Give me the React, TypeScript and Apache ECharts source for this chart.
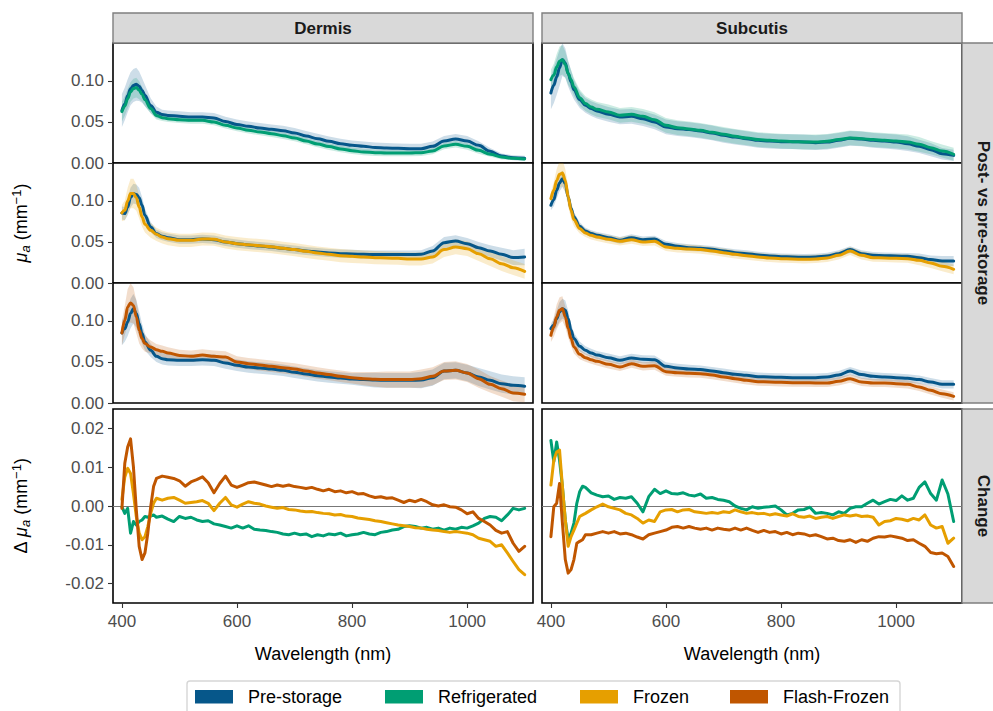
import React, { useEffect, useRef } from 'react';
import * as echarts from 'echarts';

// ---------- data ----------
const W = [400, 405, 410, 415, 420, 425, 430, 435, 440, 450, 460, 470, 480,
  500, 520, 540, 560, 580, 600, 620, 640, 660, 680,
  700, 720, 740, 760, 780, 800, 820, 840, 860, 880,
  900, 920, 940, 960, 980, 1000, 1020, 1040, 1060, 1080,
  1100];

// Dermis, row 1: Pre-storage vs Refrigerated
const dPre1 = [.064, .072, .082, .0905, .0945, .096, .0935, .0885, .0825, .070, .062, .059, .058,
  .057, .056, .056, .055, .0505, .047, .0447, .0427, .041, .0394,
  .0366, .033, .0297, .0264, .0236, .0215, .0203, .019, .0183, .0179,
  .0175, .0175, .0203, .0268, .0293, .0268, .0215, .0142, .0085, .0065,
  .0057];
const sdDPre1 = [.02, .02, .02, .02, .02, .02, .018, .015, .013, .009, .007, .006, .006,
  .006, .006, .006, .006, .006, .006, .006, .006, .006, .006,
  .006, .006, .006, .006, .006, .006, .006, .006, .006, .006,
  .006, .006, .006, .006, .006, .006, .005, .004, .003, .003,
  .003];
const dRef1 = [.0626, .0695, .0785, .0866, .0907, .0919, .0886, .0837, .0772, .0663, .058, .0553, .054,
  .0528, .052, .052, .050, .046, .0427, .040, .0378, .0358, .0333,
  .0305, .0268, .0232, .020, .0171, .015, .0134, .0126, .0122, .0122,
  .0122, .0126, .0146, .0207, .0228, .0203, .0154, .0106, .0073, .0057,
  .0049];
const sdDRef1 = [.012, .012, .012, .012, .012, .012, .011, .009, .008, .006, .005, .004, .004,
  .004, .004, .004, .004, .004, .004, .004, .004, .004, .004,
  .004, .004, .004, .004, .004, .004, .004, .004, .004, .004,
  .004, .004, .004, .004, .004, .004, .004, .003, .003, .002,
  .002];

// Dermis, row 2: Pre-storage vs Frozen
const dPre2 = [.0854, .0846, .0927, .104, .109, .108, .104, .0947, .0825, .0683, .060, .057, .0553,
  .0528, .0528, .0537, .0528, .050, .048, .0463, .0451, .0439, .0423,
  .0407, .039, .0378, .0366, .0358, .0354, .035, .0346, .0346, .0346,
  .0346, .035, .039, .0492, .0512, .048, .0431, .039, .035, .031,
  .0317];
const sdDPre2 = [.008, .008, .01, .012, .012, .012, .012, .01, .008, .006, .005, .005, .005,
  .005, .005, .005, .005, .005, .005, .005, .005, .005, .005,
  .005, .005, .005, .005, .005, .005, .005, .005, .005, .005,
  .005, .005, .006, .007, .007, .007, .007, .007, .008, .009,
  .01];
const dFro2 = [.0854, .0886, .100, .109, .109, .104, .0927, .0805, .0715, .0642, .0593, .0561, .054,
  .052, .052, .0537, .0533, .050, .048, .0467, .0455, .0443, .0423,
  .0407, .0386, .0366, .035, .0333, .0325, .0317, .0309, .0305, .0301,
  .0293, .0293, .0317, .0407, .0439, .0419, .0358, .0297, .0236, .0187,
  .0142];
const sdDFro2 = [.01, .012, .016, .018, .018, .016, .014, .012, .01, .009, .008, .008, .008,
  .008, .008, .008, .008, .008, .008, .008, .008, .008, .008,
  .008, .008, .008, .008, .008, .008, .008, .008, .008, .008,
  .008, .008, .008, .009, .009, .009, .009, .009, .009, .009,
  .009];

// Dermis, row 3: Pre-storage vs Flash-Frozen
const dPre3 = [.0854, .0907, .0988, .109, .115, .109, .0967, .0846, .0744, .0642, .0569, .054, .0528,
  .052, .052, .0528, .052, .0488, .0459, .0439, .0427, .0415, .0398,
  .0374, .0354, .0333, .0317, .0305, .0293, .0285, .028, .0276, .0276,
  .0276, .028, .0309, .039, .0398, .0366, .0317, .0276, .0236, .0215,
  .0203];
const sdDPre3 = [.015, .016, .017, .018, .018, .017, .015, .012, .01, .008, .007, .007, .007,
  .007, .007, .007, .007, .007, .007, .007, .007, .007, .007,
  .007, .007, .007, .007, .007, .007, .008, .009, .009, .009,
  .009, .01, .01, .01, .01, .01, .011, .011, .011, .011,
  .011];
const dFla3 = [.0854, .1008, .117, .122, .119, .105, .0886, .0785, .0724, .0683, .065, .063, .061,
  .058, .0569, .0585, .0569, .0561, .050, .048, .0463, .0447, .0431,
  .0415, .039, .0366, .0346, .0325, .0309, .0297, .0289, .0285, .0285,
  .0285, .0297, .0325, .039, .0398, .0366, .0297, .0228, .0175, .0122,
  .0106];
const sdDFla3 = [.015, .018, .022, .024, .022, .02, .016, .012, .01, .008, .007, .007, .007,
  .007, .007, .007, .007, .007, .007, .007, .007, .007, .007,
  .007, .007, .007, .007, .007, .007, .008, .009, .01, .01,
  .01, .011, .011, .011, .011, .011, .011, .01, .01, .01,
  .01];

// Subcutis, row 1
const sPre1 = [.0854, .0947, .105, .116, .126, .122, .109, .0988, .0894, .0772, .0703, .0663, .0634,
  .0593, .0561, .0569, .054, .050, .0439, .0419, .0407, .039, .0366,
  .0337, .0317, .0297, .0276, .0268, .026, .026, .0256, .0248, .0256,
  .0276, .0301, .0293, .0276, .0268, .0256, .0236, .0203, .0163, .0114,
  .0093];
const sdSPre1 = [.02, .022, .022, .022, .02, .018, .016, .014, .012, .01, .009, .009, .009,
  .009, .009, .009, .009, .009, .009, .009, .009, .009, .009,
  .009, .009, .009, .009, .009, .009, .009, .009, .009, .009,
  .009, .009, .009, .009, .009, .009, .009, .008, .008, .007,
  .007];
const sRef1 = [.1016, .107, .117, .124, .126, .12, .109, .1016, .0927, .0797, .0724, .0683, .0654,
  .0622, .0581, .0593, .0569, .0528, .0459, .0431, .0415, .0398, .0374,
  .035, .0325, .0305, .0285, .0276, .0268, .026, .0256, .0256, .0264,
  .0285, .0305, .0297, .0285, .0276, .0268, .0256, .0228, .0187, .0146,
  .0106];
const sdSRef1 = [.012, .014, .016, .018, .018, .016, .014, .012, .011, .01, .009, .009, .009,
  .009, .009, .009, .009, .009, .009, .009, .009, .009, .009,
  .009, .009, .009, .009, .009, .009, .009, .009, .009, .009,
  .009, .009, .009, .009, .009, .009, .009, .009, .008, .008,
  .008];

// Subcutis, row 2
const sPre2 = [.0947, .1016, .113, .122, .127, .121, .105, .0907, .0805, .0691, .0634, .0602, .0581,
  .0553, .052, .0553, .0528, .0537, .0472, .0447, .0431, .0423, .0411,
  .039, .037, .0358, .0341, .0329, .0321, .0317, .0313, .0317, .0329,
  .0358, .0407, .0358, .0337, .0333, .0329, .0325, .0309, .0285, .0268,
  .0268];
const sdSPre2 = [.006, .008, .01, .01, .01, .01, .008, .007, .006, .005, .004, .004, .004,
  .004, .004, .004, .004, .004, .004, .004, .004, .004, .004,
  .004, .004, .004, .004, .004, .004, .004, .004, .004, .004,
  .004, .004, .004, .004, .004, .004, .004, .005, .005, .006,
  .006];
const sFro2 = [.1028, .113, .125, .1325, .134, .125, .105, .0886, .0772, .0663, .061, .0581, .0561,
  .0533, .0508, .0528, .050, .0508, .0439, .0423, .0415, .0407, .039,
  .037, .035, .0333, .0317, .0305, .0297, .0293, .0289, .0293, .0305,
  .0337, .039, .0337, .0309, .0305, .0301, .0297, .0276, .0244, .0203,
  .0167];
const sdSFro2 = [.008, .01, .014, .016, .016, .014, .012, .01, .008, .006, .005, .005, .005,
  .005, .005, .005, .005, .005, .005, .005, .005, .005, .005,
  .005, .005, .005, .005, .005, .005, .005, .005, .005, .005,
  .005, .005, .005, .005, .005, .005, .005, .006, .006, .006,
  .006];

// Subcutis, row 3
const sPre3 = [.0907, .0947, .1028, .111, .115, .113, .1028, .0886, .0785, .0691, .0642, .061, .0585,
  .0553, .052, .0549, .0533, .0528, .0447, .0427, .0415, .0407, .039,
  .037, .035, .0337, .0321, .0317, .0313, .0309, .0309, .0309, .0317,
  .0341, .039, .0346, .0325, .0317, .0309, .0301, .0285, .0256, .0228,
  .0228];
const sdSPre3 = [.006, .008, .01, .012, .012, .012, .01, .008, .007, .006, .005, .005, .005,
  .005, .005, .005, .005, .005, .005, .005, .005, .005, .005,
  .005, .005, .005, .005, .005, .005, .005, .005, .005, .005,
  .005, .005, .005, .005, .005, .005, .005, .005, .005, .005,
  .005];
const sFla3 = [.0825, .0927, .105, .113, .115, .105, .0907, .0785, .0683, .0593, .0553, .0528, .0508,
  .0472, .0439, .048, .0447, .0455, .0382, .037, .0362, .0358, .0341,
  .0317, .0297, .0276, .026, .0256, .0252, .0248, .0248, .0244, .0244,
  .0264, .0297, .0256, .0244, .0244, .0236, .0228, .0195, .0154, .0114,
  .0081];
const sdSFla3 = [.008, .012, .015, .016, .015, .013, .011, .009, .008, .006, .005, .005, .005,
  .005, .005, .005, .005, .005, .005, .005, .005, .005, .005,
  .005, .005, .005, .005, .005, .005, .005, .005, .005, .005,
  .005, .005, .005, .005, .005, .005, .005, .005, .005, .005,
  .005];

// Change row wavelengths
const WC = [400, 405, 410, 415, 420, 425, 430, 435, 440, 445, 450, 455, 460,
  470, 480, 490, 500, 510, 520, 530, 540, 550, 560,
  570, 580, 590, 600, 610, 620, 630, 640, 650, 660,
  670, 680, 690, 700, 710, 720, 730, 740, 750, 760,
  770, 780, 790, 800, 810, 820, 830, 840, 850, 860,
  870, 880, 890, 900, 910, 920, 930, 940, 950, 960,
  970, 980, 990, 1000, 1010, 1020, 1030, 1040, 1050, 1060,
  1070, 1080, 1090, 1100];

const dChRef = [-.0002, -.0019, -.0006, -.007, -.004, -.0049, -.004, -.0036, -.0027, -.0029, -.0026, -.0023, -.0029,
  -.0026, -.0034, -.004, -.0027, -.0032, -.0029, -.0036, -.004, -.0038, -.0046,
  -.0049, -.0053, -.0057, -.0051, -.0057, -.0051, -.006, -.0062, -.0063, -.0066,
  -.0068, -.0072, -.0074, -.007, -.0074, -.0072, -.0079, -.0074, -.0077, -.0072,
  -.0074, -.007, -.0077, -.0074, -.0072, -.0068, -.0072, -.0074, -.0068, -.0066,
  -.0062, -.006, -.0053, -.0051, -.0053, -.0057, -.0055, -.006, -.0057, -.0062,
  -.0057, -.006, -.0055, -.0057, -.0051, -.0044, -.0032, -.0027, -.0029, -.0038,
  -.0023, -.0006, -.001, -.0006];
const dChFro = [.0017, .0075, .0097, .0084, .0032, -.0027, -.007, -.0087, -.0079, -.0053, -.0019, .0007, .002,
  .0015, .002, .0022, .0015, .0007, .0009, .0011, .0014, .0007, -.0012,
  .0007, .0022, .0003, -.0003, .0005, .0011, .0007, .0005, 0, -.0003,
  -.0006, -.0004, -.0009, -.001, -.0013, -.0015, -.0014, -.0017, -.0019, -.002,
  -.0023, -.0022, -.0026, -.0027, -.0031, -.0033, -.0035, -.0038, -.004, -.0043,
  -.0046, -.0049, -.0051, -.0053, -.0056, -.0057, -.006, -.0062, -.0063, -.0066,
  -.0068, -.0066, -.0068, -.007, -.0074, -.0083, -.0087, -.0091, -.0104, -.01,
  -.0121, -.0143, -.0164, -.0177];
const dChFla = [-.0006, .011, .0152, .0173, .0101, -.001, -.0104, -.0138, -.0121, -.007, -.0002, .005, .0071,
  .0077, .0074, .0071, .0065, .0051, .0062, .0068, .0075, .006, .0034,
  .0058, .0077, .0054, .0048, .0054, .006, .0062, .0058, .0054, .005,
  .0054, .0051, .0054, .005, .0048, .0045, .0048, .0043, .0039, .0043,
  .0037, .0039, .0034, .0037, .0031, .0032, .0026, .0022, .0024, .002,
  .0021, .0015, .0009, .0015, .0011, .0017, .0011, .0003, 0, .0003,
  -.0002, -.0003, -.001, -.002, -.0015, -.0032, -.004, -.0049, -.0063, -.007,
  -.0066, -.0096, -.0117, -.0104];

const sChRef = [.0169, .0114, .0165, .0118, .005, -.0036, -.0087, -.007, -.0044, .0007, .0037, .0051, .0048,
  .0034, .0028, .0024, .0026, .0017, .0022, .002, .0024, .0007, -.0015,
  .0024, .0043, .0032, .0039, .0032, .0031, .0034, .0028, .0026, .0031,
  .002, .0022, .0017, .0015, .0011, 0, -.0006, -.001, -.0002, -.0006,
  -.0003, -.0002, 0, -.001, -.0023, -.0019, -.001, -.0009, -.0003, -.0019,
  -.0017, -.0019, -.0023, -.0015, -.0019, -.0006, -.0002, -.0002, .0007, .0015,
  .0005, .0011, .0017, .0014, .0026, .0015, .002, .0048, .0062, .0032,
  .0015, .0067, .0031, -.004];
const sChFro = [.0054, .0118, .0139, .0144, .005, -.0036, -.0104, -.0079, -.0062, -.0044, -.0027, -.0023, -.0019,
  -.001, -.0002, .0005, -.0002, -.0006, -.001, -.0019, -.0023, -.0032, -.0044,
  -.0036, -.004, -.0015, -.001, -.0009, -.0015, -.001, -.0009, -.0015, -.0017,
  -.0019, -.0017, -.0019, -.0015, -.0017, -.001, -.0015, -.0019, -.0017, -.002,
  -.0019, -.0023, -.002, -.0023, -.0026, -.002, -.0027, -.0029, -.0026, -.0032,
  -.0029, -.0027, -.0032, -.0027, -.0023, -.0026, -.0023, -.0027, -.0026, -.0029,
  -.0049, -.004, -.0038, -.0032, -.0034, -.0038, -.0032, -.0036, -.0023, -.0049,
  -.0057, -.0053, -.0096, -.0083];
const sChFla = [-.0079, -.0002, .0007, .0058, -.0044, -.0138, -.0173, -.0164, -.0138, -.0096, -.0091, -.0087, -.0074,
  -.0074, -.007, -.0066, -.007, -.0066, -.0072, -.007, -.0074, -.008, -.0085,
  -.0074, -.007, -.0066, -.0062, -.0055, -.0053, -.0057, -.0053, -.0057, -.006,
  -.0057, -.0062, -.0057, -.006, -.0062, -.0057, -.0062, -.0057, -.0063, -.0068,
  -.0063, -.0068, -.0066, -.0072, -.0068, -.0074, -.007, -.0072, -.0077, -.0074,
  -.0079, -.0085, -.0083, -.0089, -.0091, -.0087, -.0094, -.0087, -.0091, -.0083,
  -.0079, -.008, -.0077, -.008, -.0083, -.0089, -.0087, -.0096, -.0104, -.012,
  -.0123, -.0121, -.013, -.0156];

const COLUMNS = ['Dermis', 'Subcutis'];
const ROW_STRIPS = ['Post- vs pre-storage', 'Change'];
const GROUPS = ['Pre-storage', 'Refrigerated', 'Frozen', 'Flash-Frozen'];
const X_TICKS = [400, 600, 800, 1000];
const Y_TICKS_TOP = [0, 0.05, 0.1];
const Y_TICKS_CHANGE = [-0.02, -0.01, 0, 0.01, 0.02];

// ---------- styling / layout ----------
const COLORS = ['#06578A', '#009E73', '#E69F00', '#C05600'];
const FONT = "'Liberation Sans', Arial, Helvetica, sans-serif";
const COL_LEFT = [113, 542];
const PANEL_W = 420;
const ROW_TOP = [43, 163, 283, 409];
const ROW_H = [120, 120, 120, 194];
const X_RANGE = [384.5, 1114.5];
const Y_RANGE_TOP = [0, 0.1463];
const Y_RANGE_CHANGE = [-0.025, 0.025];

const TOP_PANELS = [
  { col: 0, row: 0, pre: dPre1, preSd: sdDPre1, other: dRef1, otherSd: sdDRef1, g: 1 },
  { col: 0, row: 1, pre: dPre2, preSd: sdDPre2, other: dFro2, otherSd: sdDFro2, g: 2 },
  { col: 0, row: 2, pre: dPre3, preSd: sdDPre3, other: dFla3, otherSd: sdDFla3, g: 3 },
  { col: 1, row: 0, pre: sPre1, preSd: sdSPre1, other: sRef1, otherSd: sdSRef1, g: 1 },
  { col: 1, row: 1, pre: sPre2, preSd: sdSPre2, other: sFro2, otherSd: sdSFro2, g: 2 },
  { col: 1, row: 2, pre: sPre3, preSd: sdSPre3, other: sFla3, otherSd: sdSFla3, g: 3 },
];
const CHANGE_PANELS = [
  { col: 0, lines: [dChRef, dChFro, dChFla] },
  { col: 1, lines: [sChRef, sChFro, sChFla] },
];

function bandSeries(idx: number, mean: number[], sd: number[], color: string) {
  return {
    type: 'custom',
    xAxisIndex: idx,
    yAxisIndex: idx,
    silent: true,
    clip: true,
    z: 1,
    data: W.map((w, i) => [w, mean[i] - sd[i], mean[i] + sd[i]]),
    encode: { x: 0, y: [1, 2] },
    renderItem: (params: any, api: any) => {
      if (params.dataIndex !== 0) return null;
      const upper: number[][] = [];
      const lower: number[][] = [];
      for (let i = 0; i < W.length; i++) {
        upper.push(api.coord([W[i], mean[i] + sd[i]]));
        lower.push(api.coord([W[i], mean[i] - sd[i]]));
      }
      return {
        type: 'polygon',
        shape: { points: upper.concat(lower.reverse()) },
        style: { fill: color, opacity: 0.2 },
      };
    },
  };
}

function lineSeries(idx: number, xs: number[], ys: number[], color: string, name: string, smooth: boolean, z: number) {
  return {
    type: 'line',
    name,
    xAxisIndex: idx,
    yAxisIndex: idx,
    data: xs.map((x, i) => [x, ys[i]]),
    showSymbol: false,
    symbol: 'none',
    silent: true,
    smooth: smooth ? 0.35 : false,
    smoothMonotone: smooth ? 'x' : undefined,
    lineStyle: { color, width: 3, join: 'round', cap: 'round' },
    itemStyle: { color },
    z,
  };
}

function buildOption() {
  const grid: any[] = [];
  const xAxis: any[] = [];
  const yAxis: any[] = [];
  const series: any[] = [];

  for (let r = 0; r < 4; r++) {
    for (let c = 0; c < 2; c++) {
      const idx = r * 2 + c;
      const isChange = r === 3;
      grid.push({
        left: COL_LEFT[c], top: ROW_TOP[r], width: PANEL_W, height: ROW_H[r],
        show: true, borderColor: '#000', borderWidth: 1.6, backgroundColor: '#fff',
      });
      xAxis.push({
        gridIndex: idx, type: 'value', min: X_RANGE[0], max: X_RANGE[1], position: 'bottom',
        axisLine: { show: false, onZero: false }, splitLine: { show: false },
        axisTick: { show: isChange, length: 5, lineStyle: { color: '#333', width: 1.1 }, customValues: X_TICKS },
        axisLabel: {
          show: isChange, customValues: X_TICKS, color: '#4d4d4d', fontSize: 17, fontFamily: FONT, margin: 10,
          formatter: (v: number) => String(v),
        },
      });
      const yt = isChange ? Y_TICKS_CHANGE : Y_TICKS_TOP;
      const yr = isChange ? Y_RANGE_CHANGE : Y_RANGE_TOP;
      yAxis.push({
        gridIndex: idx, type: 'value', min: yr[0], max: yr[1], position: 'left',
        axisLine: { show: false, onZero: false }, splitLine: { show: false },
        axisTick: { show: c === 0, length: 5, lineStyle: { color: '#333', width: 1.1 }, customValues: yt },
        axisLabel: {
          show: c === 0, customValues: yt, color: '#4d4d4d', fontSize: 17, fontFamily: FONT, margin: 9,
          formatter: (v: number) => v.toFixed(2),
        },
      });
    }
  }

  TOP_PANELS.forEach((p) => {
    const idx = p.row * 2 + p.col;
    series.push(bandSeries(idx, p.pre, p.preSd, COLORS[0]));
    series.push(bandSeries(idx, p.other, p.otherSd, COLORS[p.g]));
    series.push(lineSeries(idx, W, p.pre, COLORS[0], GROUPS[0], true, 3));
    series.push(lineSeries(idx, W, p.other, COLORS[p.g], GROUPS[p.g], true, 4));
  });

  CHANGE_PANELS.forEach((p) => {
    const idx = 6 + p.col;
    p.lines.forEach((ys, k) => {
      const s: any = lineSeries(idx, WC, ys, COLORS[k + 1], GROUPS[k + 1], false, 3 + k);
      if (k === 0) {
        s.markLine = {
          silent: true, symbol: 'none', label: { show: false }, z: 2,
          lineStyle: { color: '#777', width: 1, type: 'solid' },
          data: [{ yAxis: 0 }],
        };
      }
      series.push(s);
    });
  });

  const graphic: any[] = [];
  // column strips
  COLUMNS.forEach((name, c) => {
    graphic.push({
      type: 'rect', shape: { x: COL_LEFT[c], y: 13, width: PANEL_W, height: 30 },
      style: { fill: '#d9d9d9', stroke: '#7f7f7f', lineWidth: 1.4 },
    });
    graphic.push({
      type: 'text', x: COL_LEFT[c] + PANEL_W / 2, y: 28,
      style: { text: name, fontSize: 17, fontWeight: 'bold', fontFamily: FONT, fill: '#1a1a1a', align: 'center', verticalAlign: 'middle' },
    });
  });
  // row strips
  const stripSpans = [[ROW_TOP[0], ROW_TOP[2] + ROW_H[2]], [ROW_TOP[3], ROW_TOP[3] + ROW_H[3]]];
  ROW_STRIPS.forEach((name, i) => {
    const [y0, y1] = stripSpans[i];
    graphic.push({
      type: 'rect', shape: { x: 962, y: y0, width: 45, height: y1 - y0 },
      style: { fill: '#d9d9d9', stroke: '#7f7f7f', lineWidth: 1.4 },
    });
    graphic.push({
      type: 'text', x: 983, y: (y0 + y1) / 2, rotation: -Math.PI / 2,
      style: { text: name, fontSize: 17, fontWeight: 'bold', fontFamily: FONT, fill: '#1a1a1a', align: 'center', verticalAlign: 'middle' },
    });
  });
  // y titles
  const rich = {
    n: { fontSize: 18, fontFamily: FONT, fill: '#000', lineHeight: 22 },
    i: { fontSize: 18, fontFamily: FONT, fontStyle: 'italic', fill: '#000', lineHeight: 22 },
    s: { fontSize: 13, fontFamily: FONT, fontStyle: 'italic', fill: '#000', lineHeight: 12, verticalAlign: 'bottom' },
    p: { fontSize: 13, fontFamily: FONT, fill: '#000', lineHeight: 12, verticalAlign: 'top' },
  };
  graphic.push({
    type: 'text', x: 21, y: (ROW_TOP[0] + ROW_TOP[2] + ROW_H[2]) / 2, rotation: Math.PI / 2,
    style: { text: '{i|μ}{s|a}{n| (mm}{p|−1}{n|)}', rich, align: 'center', verticalAlign: 'middle' },
  });
  graphic.push({
    type: 'text', x: 21, y: ROW_TOP[3] + ROW_H[3] / 2, rotation: Math.PI / 2,
    style: { text: '{n|Δ }{i|μ}{s|a}{n| (mm}{p|−1}{n|)}', rich, align: 'center', verticalAlign: 'middle' },
  });
  // x titles
  COLUMNS.forEach((_, c) => {
    graphic.push({
      type: 'text', x: COL_LEFT[c] + PANEL_W / 2, y: 654,
      style: { text: 'Wavelength (nm)', fontSize: 18, fontFamily: FONT, fill: '#000', align: 'center', verticalAlign: 'middle' },
    });
  });
  // legend
  graphic.push({
    type: 'rect', shape: { x: 187, y: 681, width: 713, height: 45, r: 3 },
    style: { fill: '#fff', stroke: '#d6d6d6', lineWidth: 1.4 },
  });
  const keyX = [195, 385, 580, 730];
  GROUPS.forEach((g, k) => {
    graphic.push({
      type: 'rect', shape: { x: keyX[k], y: 690, width: 38, height: 13.5 },
      style: { fill: COLORS[k] },
    });
    graphic.push({
      type: 'text', x: keyX[k] + 53, y: 697,
      style: { text: g, fontSize: 18, fontFamily: FONT, fill: '#000', align: 'left', verticalAlign: 'middle' },
    });
  });

  return {
    animation: false,
    backgroundColor: '#fff',
    grid, xAxis, yAxis, series, graphic,
  };
}

export default function App() {
  const ref = useRef<HTMLDivElement>(null);
  useEffect(() => {
    const chart = echarts.init(ref.current!, null, { renderer: 'svg' });
    chart.setOption(buildOption() as any);
    return () => chart.dispose();
  }, []);
  return (
    <div
      ref={ref}
      style={{ position: 'absolute', left: 0, top: 0, width: 993, height: 711, background: '#fff' }}
    />
  );
}
